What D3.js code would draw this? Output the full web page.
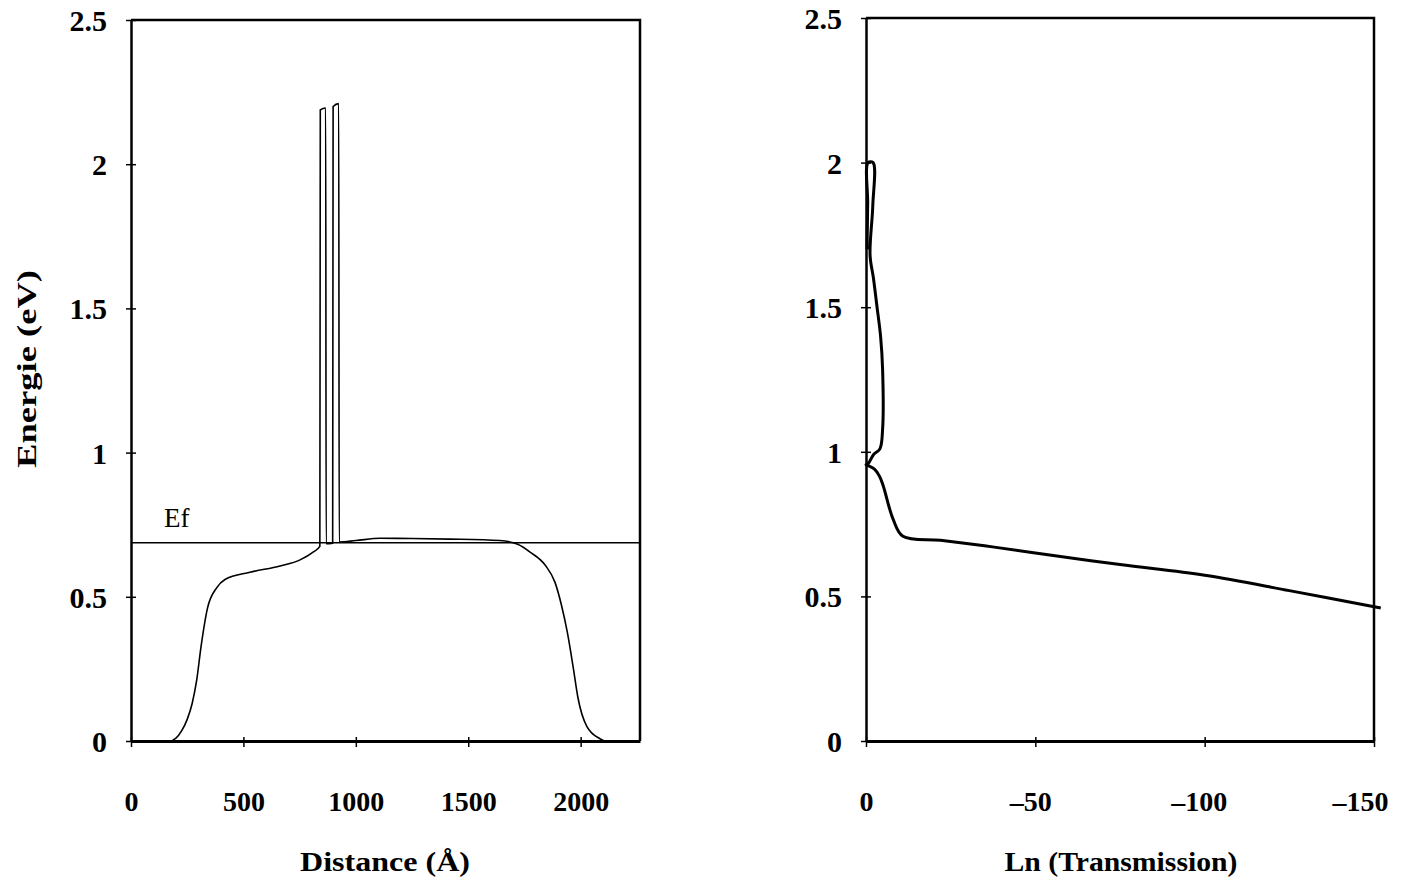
<!DOCTYPE html>
<html>
<head>
<meta charset="utf-8">
<script src="https://cdn.jsdelivr.net/npm/d3@7"></script>
<style>
  body { margin: 0; background: #fff; }
  svg { display: block; }
  .tick text { font-family: "Liberation Serif", "Times New Roman", serif; font-weight: bold; font-size: 30px; fill: #000; }
  .title { font-family: "Liberation Serif", "Times New Roman", serif; font-weight: bold; font-size: 28px; fill: #000; }
</style>
</head>
<body>
<svg id="chart" width="1404" height="881"></svg>
<script>
// left panel: conduction band profile vs distance (Angstrom)
const bandDist = [0, 173, 200, 225, 250, 272, 292, 312, 340, 380, 418, 529, 663, 752, 810, 840,
  842, 866, 868, 897, 899, 924, 926, 1000, 1108, 1250, 1419, 1641, 1720, 1775, 1842,
  1886, 1915, 1940, 1966, 1988, 2028, 2086, 2110, 2264];
const bandEnergy = [0, 0, 0.01, 0.035, 0.075, 0.13, 0.21, 0.33, 0.46, 0.53, 0.56, 0.585, 0.607, 0.628, 0.655, 0.675,
  2.188, 2.195, 0.684, 0.686, 2.2, 2.21, 0.69, 0.695, 0.703, 0.702, 0.70, 0.695, 0.682, 0.655, 0.61,
  0.55, 0.47, 0.38, 0.26, 0.15, 0.05, 0.008, 0, 0];
const fermiLevel = 0.687;

// right panel: energy vs ln(transmission)
const lnT = [-0.3, -0.5, -0.6, -2.1, -2.0, -1.2, -2.2, -3.2, -4.3, -4.9, -4.9, -4.1, -2.2, -0.7,
  0, -0.6, -2.5, -4.0, -5.1, -8.0, -10.9, -22, -35, -50, -75, -100, -125, -152];
const lnTEnergy = [1.70, 1.86, 2.0, 2.0, 1.85, 1.68, 1.60, 1.506, 1.40, 1.286, 1.078, 1.01, 0.99, 0.96,
  0.955, 0.952, 0.94, 0.915, 0.882, 0.767, 0.708, 0.694, 0.675, 0.650, 0.61, 0.573, 0.52, 0.46];

const yTicks = [0, 0.5, 1, 1.5, 2, 2.5];
const distTicks = [0, 500, 1000, 1500, 2000];
const lnTicks = [0, -50, -100, -150];
const lnTickLabels = ["0", "\u201350", "\u2013100", "\u2013150"];

const svg = d3.select("#chart");

function drawPanel(opts) {
  let x = d3.scaleLinear().domain(opts.xDomain).range([opts.left, opts.right]),
  y = d3.scaleLinear().domain([0, 2.5]).range([741, opts.top]);

  let g = svg.append("g");

  // frame top and right
  g.append("path")
  .attr("d", `M${opts.left},${opts.top}H${opts.right}V741`)
  .attr("fill", "none")
  .attr("stroke", "#000")
  .attr("stroke-width", 2.5);

  // y axis, ticks as small crosses
  let yAxis = g.append("g")
  .attr("transform", `translate(${opts.left},0)`)
  .call(d3.axisLeft(y).tickValues(yTicks).tickFormat(d3.format("")).tickSizeOuter(0).tickPadding(18));
  yAxis.select(".domain").attr("stroke-width", 2.5);
  yAxis.selectAll(".tick line").attr("x1", 5).attr("x2", -5).attr("stroke-width", 1.5);
  yAxis.selectAll(".tick text").attr("dy", "0.35em");

  // x axis
  let xAxis = g.append("g")
  .attr("transform", "translate(0,741)")
  .call(d3.axisBottom(x).tickValues(opts.xTicks).tickFormat((d, i) => opts.xLabels ? opts.xLabels[i] : d)
    .tickSizeOuter(0).tickPadding(44));
  xAxis.select(".domain").attr("stroke-width", 3);
  xAxis.selectAll(".tick line").attr("y1", -4).attr("y2", 6).attr("stroke-width", 1.5);
  xAxis.selectAll(".tick text").style("font-size", "28px")
  .attr("dx", (d, i) => opts.labelShift ? opts.labelShift[i] : 0);

  return {x: x, y: y, g: g};
}

// left panel
let left = drawPanel({left: 131, right: 640, top: 20, xDomain: [0, 2264], xTicks: distTicks});

left.g.append("line")
.attr("x1", left.x(0)).attr("x2", left.x(2264))
.attr("y1", left.y(fermiLevel)).attr("y2", left.y(fermiLevel))
.attr("stroke", "#000").attr("stroke-width", 1.5);

left.g.append("text")
.attr("x", 164).attr("y", left.y(fermiLevel) - 16)
.attr("font-family", "Liberation Serif, serif")
.attr("font-size", 27)
.text("Ef");

let bandLine = d3.line()
.x((d, i) => left.x(bandDist[i]))
.y(d => left.y(d))
.curve(d3.curveMonotoneX);

left.g.append("path")
.attr("d", bandLine(bandEnergy))
.attr("fill", "none")
.attr("stroke", "#000")
.attr("stroke-width", 1.6);

// right panel
let right = drawPanel({left: 866, right: 1374, top: 18, xDomain: [0, -150], xTicks: lnTicks,
  xLabels: lnTickLabels, labelShift: [0, -5, -6, -14]});

let lnLine = d3.line()
.x((d, i) => right.x(lnT[i]))
.y(d => right.y(d))
.curve(d3.curveCatmullRom.alpha(0.5));

right.g.append("path")
.attr("d", lnLine(lnTEnergy))
.attr("fill", "none")
.attr("stroke", "#000")
.attr("stroke-width", 3);

// axis titles
svg.append("text").attr("class", "title")
.attr("x", 385).attr("y", 871).attr("text-anchor", "middle")
.attr("textLength", 170).attr("lengthAdjust", "spacingAndGlyphs")
.text("Distance (Å)");

svg.append("text").attr("class", "title")
.attr("x", 1121).attr("y", 871).attr("text-anchor", "middle")
.attr("textLength", 233).attr("lengthAdjust", "spacingAndGlyphs")
.text("Ln (Transmission)");

svg.append("text").attr("class", "title")
.attr("transform", "translate(36,369) rotate(-90)")
.attr("text-anchor", "middle")
.attr("textLength", 198).attr("lengthAdjust", "spacingAndGlyphs")
.text("Energie (eV)");
</script>
</body>
</html>
